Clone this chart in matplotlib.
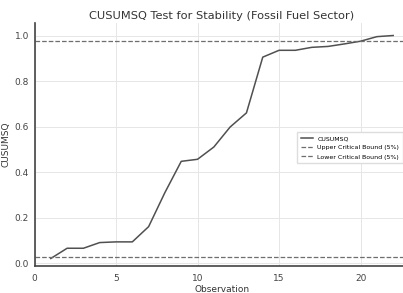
import matplotlib.pyplot as plt
import numpy as np

# CUSUMSQ values
obs = [1, 2, 3, 4, 5, 6, 7, 8, 9, 10, 11, 12, 13, 14, 15, 16, 17, 18, 19, 20, 21, 22]
cusumsq = [0.02, 0.065, 0.065, 0.09, 0.093, 0.093, 0.16, 0.31, 0.447, 0.456, 0.51,
           0.598, 0.66, 0.905, 0.935, 0.935, 0.948, 0.952, 0.963, 0.975, 0.995, 1.0]
upper_bound = 0.975
lower_bound = 0.025

fig = plt.figure(figsize=(4.03, 2.93), dpi=100)
ax = fig.add_axes([34.5 / 403, 1 - 266 / 293, 375 / 403, 243 / 293])

ax.plot(obs, cusumsq, color='#505050', lw=1.1, label='CUSUMSQ')
ax.axhline(upper_bound, color='#6e6e6e', lw=0.9, ls='--', label='Upper Critical Bound (5%)')
ax.axhline(lower_bound, color='#6e6e6e', lw=0.9, ls='--', label='Lower Critical Bound (5%)')

ax.set_xlim(0, 23)
ax.set_ylim(-0.013, 1.055)
ax.set_xticks([0, 5, 10, 15, 20])
ax.set_yticks([0.0, 0.2, 0.4, 0.6, 0.8, 1.0])
ax.grid(True, color='#e6e6e6', lw=0.7)
ax.set_axisbelow(True)

for s in ['top', 'right']:
    ax.spines[s].set_visible(False)
for s in ['left', 'bottom']:
    ax.spines[s].set_color('#444444')
    ax.spines[s].set_linewidth(1.2)
ax.tick_params(length=0, labelsize=6.5, colors='#444444')
ax.tick_params(axis='x', pad=6)
ax.tick_params(axis='y', pad=4)

ax.set_title('CUSUMSQ Test for Stability (Fossil Fuel Sector)', fontsize=8.2, color='#333333', pad=3)
ax.set_xlabel('Observation', fontsize=6.5, color='#333333', labelpad=1)
ax.set_ylabel('CUSUMSQ', fontsize=6.5, color='#333333', labelpad=3)

ax.legend(loc='upper left', bbox_to_anchor=(294 / 403, 1 - 129 / 293),
          bbox_transform=fig.transFigure, fontsize=4.5, frameon=True,
          edgecolor='#dddddd', framealpha=1, handlelength=2.0, borderpad=0.6,
          labelspacing=0.6, handletextpad=0.6, fancybox=False)

plt.savefig('out.png', dpi=100)
